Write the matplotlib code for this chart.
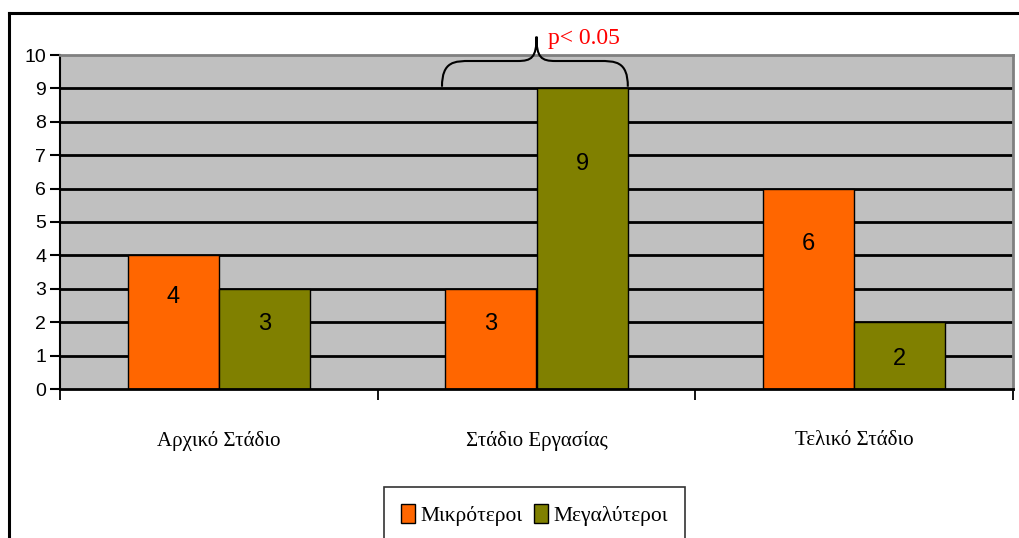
import matplotlib
matplotlib.use("Agg")
import matplotlib.pyplot as plt
from matplotlib.path import Path
from matplotlib.patches import PathPatch
from matplotlib.lines import Line2D
import numpy as np

categories = ["Αρχικό Στάδιο", "Στάδιο Εργασίας", "Τελικό Στάδιο"]
series_names = ["Μικρότεροι", "Μεγαλύτεροι"]
smaller = [4, 3, 6]
larger = [3, 9, 2]
y_ticks = list(range(0, 11))
sig_label = "p< 0.05"

ORANGE = "#FF6600"
OLIVE = "#808000"
GRAY = "#C0C0C0"
SANS = ["Liberation Sans", "DejaVu Sans"]
SERIF = ["Liberation Serif", "DejaVu Serif"]

W, H = 1019, 538
fig = plt.figure(figsize=(W / 100, H / 100), dpi=100)

# outer chart border (top and left edges)
fig.add_artist(Line2D([9 / W, 1.0], [1 - 13 / H, 1 - 13 / H], color="black", lw=2.2,
                      transform=fig.transFigure))
fig.add_artist(Line2D([9 / W, 9 / W], [1 - 13 / H, 0.0], color="black", lw=2.2,
                      transform=fig.transFigure))

ax = fig.add_axes([60 / W, 1 - 389 / H, (1013 - 60) / W, (389 - 55) / H])
ax.set_facecolor(GRAY)

x = np.arange(len(categories))
bw = 0.2875
ax.bar(x - bw / 2, smaller, bw, color=ORANGE, edgecolor="black", linewidth=1.0,
       label=series_names[0], zorder=3)
ax.bar(x + bw / 2, larger, bw, color=OLIVE, edgecolor="black", linewidth=1.0,
       label=series_names[1], zorder=3)


def label_height(v):
    # value labels sit a little above the middle of taller bars
    return 0.8 * v - 0.45 if v > 2 else v * 0.45


for xs, vals in ((x - bw / 2, smaller), (x + bw / 2, larger)):
    for xi, v in zip(xs, vals):
        ax.text(xi, label_height(v), str(v), ha="center", va="center",
                fontsize=17, family=SANS, zorder=4)

ax.set_xlim(-0.5, 2.5)
ax.set_ylim(0, 10)
ax.set_yticks(y_ticks)
ax.set_yticklabels([str(t) for t in y_ticks], family=SANS, fontsize=14)
for yv in y_ticks[1:-1]:
    ax.axhline(yv, color="black", lw=2.0, zorder=2)

ax.set_xticks([-0.5, 0.5, 1.5, 2.5])
ax.set_xticklabels([])
ax.tick_params(axis="x", length=8, width=1.3, direction="out", color="black")
ax.tick_params(axis="y", length=7, width=1.5, direction="out", color="black", pad=3)
for xi, c in zip(x, categories):
    ax.text(xi, -1.55, c, ha="center", va="center", fontsize=15, family=SERIF)

for side in ["top", "right"]:
    ax.spines[side].set_color("#808080")
    ax.spines[side].set_linewidth(2.0)
ax.spines["left"].set_color("black")
ax.spines["left"].set_linewidth(1.5)
ax.spines["bottom"].set_color("black")
ax.spines["bottom"].set_linewidth(2.0)
ax.spines["bottom"].set_zorder(5)

# curly brace over the middle group
L, R, C = 1 - bw - 0.01, 1 + bw, 1.0
yb, ym, yt = 9.05, 9.82, 10.55
verts = [
    (L, yb), (L, ym), (L + 0.04, ym), (L + 0.09, ym),
    (C - 0.06, ym),
    (C - 0.015, ym), (C, ym + 0.1), (C, yt),
    (C, ym + 0.1), (C + 0.015, ym), (C + 0.06, ym),
    (R - 0.09, ym),
    (R - 0.04, ym), (R, ym), (R, yb),
]
codes = [Path.MOVETO, Path.CURVE4, Path.CURVE4, Path.CURVE4,
         Path.LINETO,
         Path.CURVE4, Path.CURVE4, Path.CURVE4,
         Path.CURVE4, Path.CURVE4, Path.CURVE4,
         Path.LINETO,
         Path.CURVE4, Path.CURVE4, Path.CURVE4]
ax.add_patch(PathPatch(Path(verts, codes), facecolor="none", edgecolor="black",
                       lw=1.5, clip_on=False, zorder=6))
ax.text(C + 0.035, 10.48, sig_label, color="red", fontsize=17, family=SERIF,
        ha="left", va="center", clip_on=False)

leg = fig.legend(loc="upper center", bbox_to_anchor=(534.5 / W, 1 - 487 / H),
                 ncol=2, frameon=True, fancybox=False, edgecolor="black",
                 prop={"family": SERIF, "size": 15.5}, handlelength=0.65,
                 handleheight=1.0, handletextpad=0.25, columnspacing=0.5,
                 borderpad=0.8, borderaxespad=0)
leg.get_frame().set_linewidth(1.2)
leg._legend_box.sep = 0

fig.savefig("out.png", dpi=100)
